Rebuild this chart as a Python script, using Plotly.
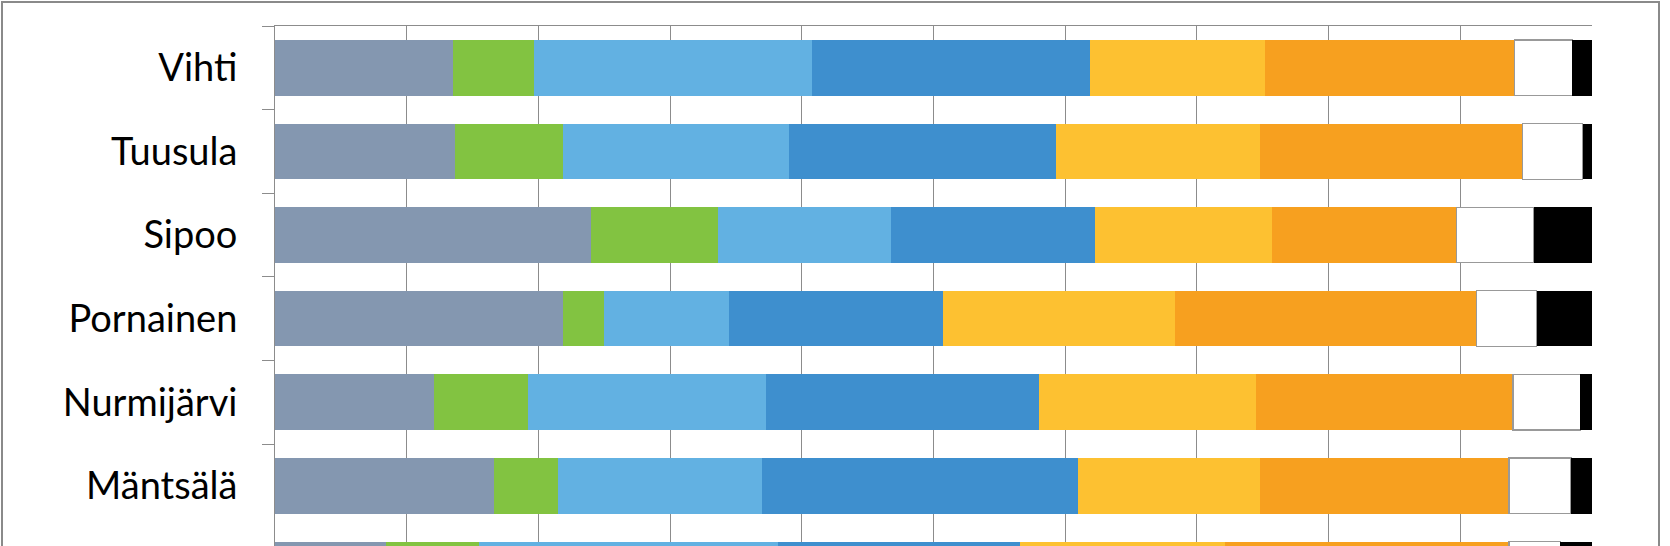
import plotly.graph_objects as go

# Categories (top to bottom)
kunnat = ["Vihti", "Tuusula", "Sipoo", "Pornainen", "Nurmijärvi", "Mäntsälä", "Kirkkonummi"]

# Series shares (%)
sarja1 = [13.5, 13.7, 24.0, 21.9, 12.1, 16.6, 8.4]
sarja2 = [6.2, 8.2, 9.6, 3.1, 7.1, 4.9, 7.1]
sarja3 = [21.1, 17.1, 13.2, 9.5, 18.1, 15.5, 22.7]
sarja4 = [21.1, 20.3, 15.5, 16.2, 20.7, 24.0, 18.4]
sarja5 = [13.3, 15.5, 13.4, 17.6, 16.5, 13.8, 15.5]
sarja6 = [18.9, 19.9, 14.0, 22.9, 19.5, 18.9, 21.6]
sarja7 = [4.4, 4.6, 5.9, 4.6, 5.1, 4.7, 3.9]
sarja8 = [1.5, 0.7, 4.4, 4.2, 0.9, 1.6, 2.4]

series_names = ["Sarja 1", "Sarja 2", "Sarja 3", "Sarja 4", "Sarja 5", "Sarja 6", "Sarja 7", "Sarja 8"]
series_values = [sarja1, sarja2, sarja3, sarja4, sarja5, sarja6, sarja7, sarja8]
colors = ["#8497B0", "#82C341", "#62B1E2", "#3E8FCE", "#FDC131", "#F7A01F", "#FFFFFF", "#000000"]

GRAY = "#8C8C8C"

fig = go.Figure()
for name, vals, col in zip(series_names, series_values, colors):
    outline = dict(color="#999999", width=1.2) if col == "#FFFFFF" else dict(width=0)
    fig.add_trace(go.Bar(
        y=kunnat, x=vals, name=name, orientation="h",
        marker=dict(color=col, line=outline),
    ))

W, H = 1670, 546
L, R, T, B = 275, 78, 26, 0
pw = W - L - R
ph = H - T - B

def px_x(p):
    return (p - L) / pw

def px_y(p):
    return (H - B - p) / ph

fig.update_layout(
    width=W, height=H,
    barmode="stack", bargap=0.335,
    showlegend=False,
    plot_bgcolor="white", paper_bgcolor="white",
    margin=dict(l=L, r=R, t=T, b=B, pad=0, autoexpand=False),
    xaxis=dict(
        side="top", range=[0, 100], dtick=10,
        showgrid=True, gridcolor=GRAY, gridwidth=1,
        showline=True, linecolor=GRAY, linewidth=1,
        ticks="", showticklabels=False, zeroline=False,
        automargin=False,
    ),
    yaxis=dict(
        type="category", categoryorder="array", categoryarray=kunnat,
        range=[5.72, -0.5],
        showgrid=False, zeroline=False,
        showline=True, linecolor=GRAY, linewidth=1,
        ticks="outside", tickson="boundaries", ticklen=12, tickcolor=GRAY, tickwidth=1,
        tickfont=dict(family="Lato", size=38, color="#000000"),
        ticklabelstandoff=29,
        automargin=False,
    ),
    shapes=[dict(
        type="path", xref="paper", yref="paper",
        path=f"M {px_x(2)},{px_y(560)} L {px_x(2)},{px_y(2)} L {px_x(1659)},{px_y(2)} L {px_x(1659)},{px_y(560)}",
        line=dict(color="#8A8A8A", width=2),
    )],
)

fig.write_html(
    "out.html",
    config={"displayModeBar": False},
    post_script="document.body.style.margin='0';document.body.style.overflow='hidden';",
)
